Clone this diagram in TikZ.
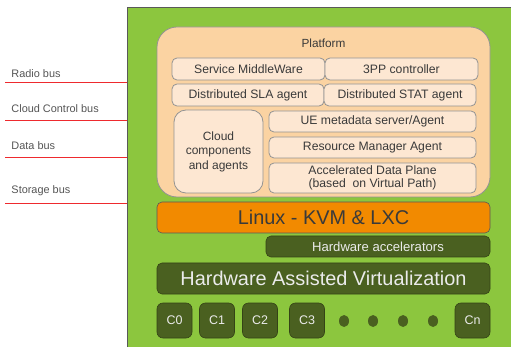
\documentclass[tikz,border=0pt]{standalone}
\usepackage{fontspec}
\setmainfont{Liberation Sans}
\usetikzlibrary{shapes.geometric}
\definecolor{limegreen}{HTML}{8CC63E}
\definecolor{darkolive}{HTML}{4A6020}
\definecolor{peach}{HTML}{FBD3A2}
\definecolor{lightpeach}{HTML}{FDE7D2}
\definecolor{linuxorange}{HTML}{F28A00}
\definecolor{txtgray}{HTML}{3A3A3A}
\definecolor{busgray}{HTML}{555555}
\definecolor{busred}{HTML}{EE2A2E}
\begin{document}
\begin{tikzpicture}[x=1pt,y=-1pt,
  every node/.style={inner sep=0pt, outer sep=0pt},
  lightbox/.style={draw=gray!85, line width=0.8pt, fill=lightpeach, rounded corners=5pt,
    text=txtgray, font=\fontsize{12.2}{13.5}\selectfont, align=center},
  darkbox/.style={draw=darkolive!70!black, line width=0.6pt, fill=darkolive, rounded corners=5pt,
    text=white!92!black, align=center},
  corebox/.style={darkbox, minimum width=35pt, minimum height=35pt, rounded corners=6pt,
    font=\fontsize{12.5}{14}\selectfont},
  dotmark/.style={ellipse, fill=darkolive, minimum width=10pt, minimum height=12pt},
  buslabel/.style={anchor=west, text=busgray, font=\fontsize{10.9}{12}\selectfont},
  busline/.style={draw=busred, line width=1pt}]
\useasboundingbox (0,0) rectangle (511,347);
% outer green board
\node[fill=limegreen, draw=gray!70!black, line width=0.8pt, minimum width=386pt, minimum height=341pt,
  anchor=north west] (board) at (127,7.5) {};
% platform
\node[fill=peach, draw=gray!85, line width=0.8pt, rounded corners=20pt,
  minimum width=333pt, minimum height=170pt] (platform) at (323.5,112) {};
\node[text=txtgray, font=\fontsize{11.8}{13}\selectfont] (ptitle) at (323.5,43) {Platform};
\node[lightbox, minimum width=153pt, minimum height=22pt] (sm) at (248.5,69) {Service MiddleWare};
\node[lightbox, minimum width=153pt, minimum height=22pt] (tpp) at (401.5,69) {3PP controller};
\node[lightbox, minimum width=152pt, minimum height=22pt] (sla) at (248,95) {Distributed SLA agent};
\node[lightbox, minimum width=152pt, minimum height=22pt] (stat) at (400,95) {Distributed STAT agent};
\node[lightbox, rounded corners=12pt, minimum width=89pt, minimum height=83pt,
  font=\fontsize{12}{14.5}\selectfont] (cloud) at (218.5,151.5) {Cloud\\components\\and agents};
\node[lightbox, minimum width=207pt, minimum height=21pt] (ue) at (372.5,121.5) {UE metadata server/Agent};
\node[lightbox, minimum width=207pt, minimum height=21pt] (rm) at (372.5,147.5) {Resource Manager Agent};
\node[lightbox, minimum width=207pt, minimum height=30pt] (adp) at (372.5,178) {Accelerated Data Plane\\(based\ \ on Virtual Path)};
% linux
\node[fill=linuxorange, draw=gray!70!black, line width=0.6pt, rounded corners=5pt,
  minimum width=333pt, minimum height=31pt, text=txtgray,
  font=\fontsize{19.9}{22}\selectfont] (linux) at (323.5,217.5) {Linux - KVM \& LXC};
\node[darkbox, minimum width=224pt, minimum height=21pt,
  font=\fontsize{13.1}{15}\selectfont] (hwacc) at (378,246.5) {Hardware accelerators};
\node[darkbox, minimum width=333pt, minimum height=31pt,
  font=\fontsize{19.9}{22}\selectfont] (hav) at (323.5,278.5) {Hardware Assisted Virtualization};
% cores
\node[corebox] (c0) at (174.5,320.5) {C0};
\node[corebox] (c1) at (217,320.5) {C1};
\node[corebox] (c2) at (260,320.5) {C2};
\node[corebox] (c3) at (307,320.5) {C3};
\node[dotmark] (d1) at (344,321) {};
\node[dotmark] (d2) at (373,321) {};
\node[dotmark] (d3) at (403,321) {};
\node[dotmark] (d4) at (433,321) {};
\node[corebox] (cn) at (472.5,320.5) {Cn};
% buses
\node[buslabel] (lradio) at (11.5,74) {Radio bus};
\node[buslabel] (lcloud) at (11.5,109) {Cloud Control bus};
\node[buslabel] (ldata) at (11.5,146) {Data bus};
\node[buslabel] (lstor) at (11.5,191) {Storage bus};
\coordinate (b1) at (5,83);
\coordinate (b2) at (5,121);
\coordinate (b3) at (5,158);
\coordinate (b4) at (5,204);
\draw[busline] (b1) -- (b1 -| board.west);
\draw[busline] (b2) -- (b2 -| board.west);
\draw[busline] (b3) -- (b3 -| board.west);
\draw[busline] (b4) -- (b4 -| board.west);
\end{tikzpicture}
\end{document}
